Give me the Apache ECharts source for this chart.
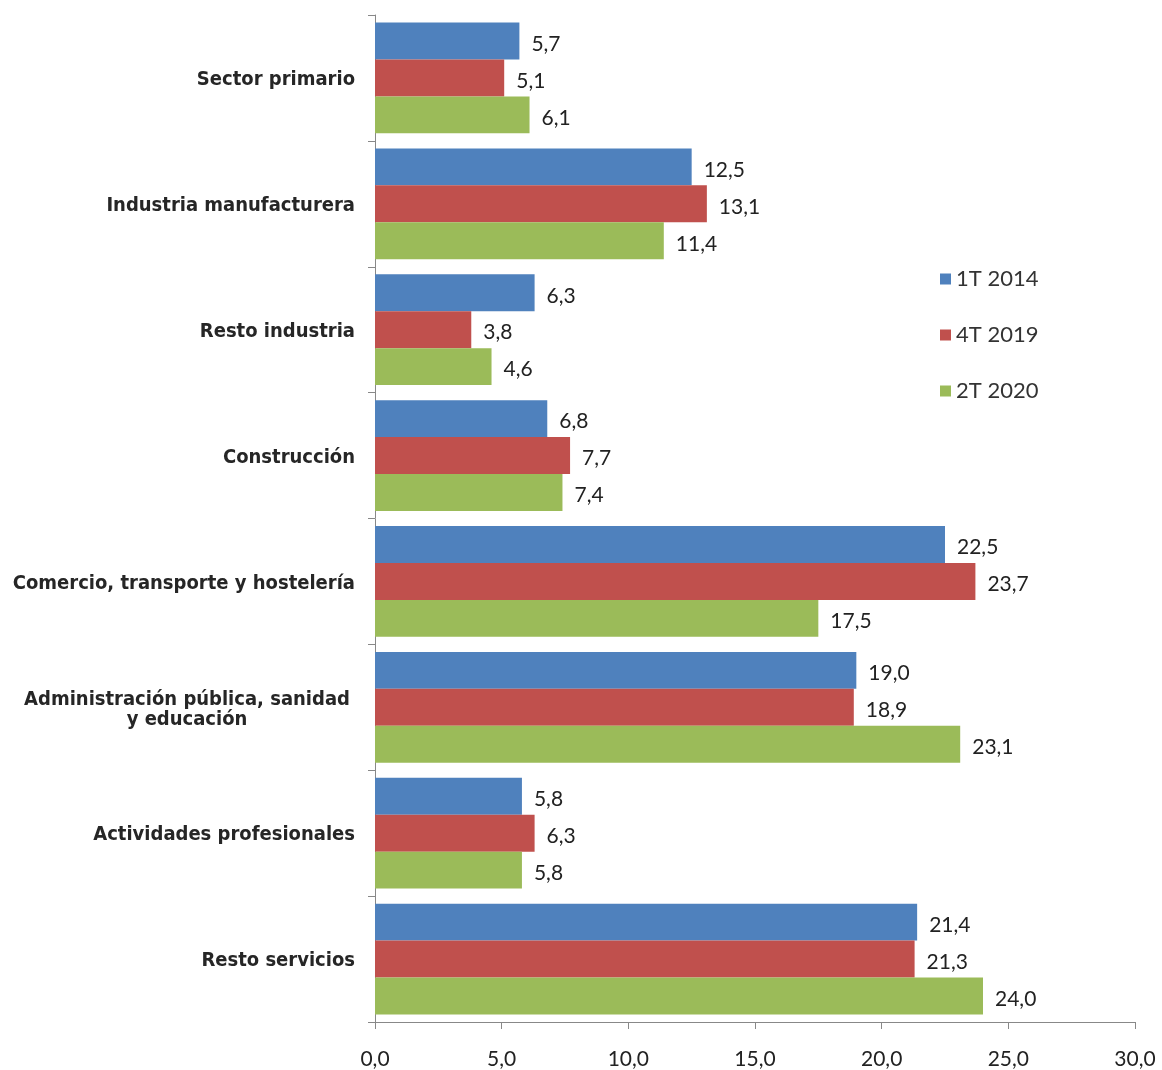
<!DOCTYPE html>
<html>
<head>
<meta charset="utf-8">
<script src="https://cdn.jsdelivr.net/npm/echarts@6/dist/echarts.min.js"></script>
<style>
  html, body { margin: 0; padding: 0; background: #fff; }
  #chart { width: 1162px; height: 1070px; }
</style>
</head>
<body>
<div id="chart"></div>
<script>
  var categories = [
    'Sector primario',
    'Industria manufacturera',
    'Resto industria',
    'Construcción',
    'Comercio, transporte y hostelería',
    'Administración pública, sanidad\ny educación',
    'Actividades profesionales',
    'Resto servicios'
  ];
  var seriesNames = ['1T 2014', '4T 2019', '2T 2020'];
  var values2014 = [5.7, 12.5, 6.3, 6.8, 22.5, 19.0, 5.8, 21.4];
  var values2019 = [5.1, 13.1, 3.8, 7.7, 23.7, 18.9, 6.3, 21.3];
  var values2020 = [6.1, 11.4, 4.6, 7.4, 17.5, 23.1, 5.8, 24.0];
  var colors = ['#4F81BD', '#C0504D', '#9BBB59'];

  function comma(v) {
    return v.toFixed(1).replace('.', ',');
  }

  function makeSeries(name, data, color) {
    return {
      name: name,
      type: 'bar',
      data: data,
      barGap: '0%',
      barCategoryGap: '12%',
      itemStyle: {color: color},
      label: {
        show: true,
        position: 'right',
        distance: 12,
        offset: [0, 3],
        color: '#222',
        fontFamily: 'Lato',
        fontSize: 21,
        formatter: function (p) {
          return comma(p.value);
        }
      }
    };
  }

  var labelFont = "'DejaVu Sans Condensed', 'DejaVu Sans'";

  var myChart = echarts.init(document.getElementById('chart'));
  myChart.setOption({
    animation: false,
    grid: {left: 375, right: 27, top: 15, bottom: 47},
    legend: {
      orient: 'vertical',
      left: 935,
      top: 263,
      itemWidth: 11,
      itemHeight: 11,
      itemGap: 34,
      icon: 'rect',
      textStyle: {fontFamily: 'Lato', fontSize: 22, color: '#333'},
      data: seriesNames
    },
    xAxis: {
      type: 'value',
      min: 0,
      max: 30,
      interval: 5,
      splitLine: {show: false},
      axisLine: {show: true, lineStyle: {color: '#888'}},
      axisTick: {show: true, length: 7, lineStyle: {color: '#888'}},
      axisLabel: {
        margin: 27,
        color: '#222',
        fontFamily: 'Lato',
        fontSize: 21,
        formatter: function (v) {
          return comma(v);
        }
      }
    },
    yAxis: {
      type: 'category',
      inverse: true,
      data: categories,
      axisLine: {show: true, lineStyle: {color: '#888'}},
      axisTick: {show: true, length: 7, lineStyle: {color: '#888'}},
      axisLabel: {
        margin: 20,
        color: '#262626',
        fontFamily: labelFont,
        fontWeight: 'bold',
        fontSize: 20,
        lineHeight: 20,
        padding: [4, 0, 0, 0],
        formatter: function (v) {
          if (v.indexOf('\n') >= 0) {
            return v.split('\n').map(function (s) {
              return '{c|' + s + '}';
            }).join('\n');
          }
          return v;
        },
        rich: {
          c: {
            width: 336,
            align: 'center',
            fontFamily: labelFont,
            fontWeight: 'bold',
            fontSize: 20,
            lineHeight: 20,
            color: '#262626'
          }
        }
      }
    },
    series: [
      makeSeries(seriesNames[0], values2014, colors[0]),
      makeSeries(seriesNames[1], values2019, colors[1]),
      makeSeries(seriesNames[2], values2020, colors[2])
    ]
  });
</script>
</body>
</html>
